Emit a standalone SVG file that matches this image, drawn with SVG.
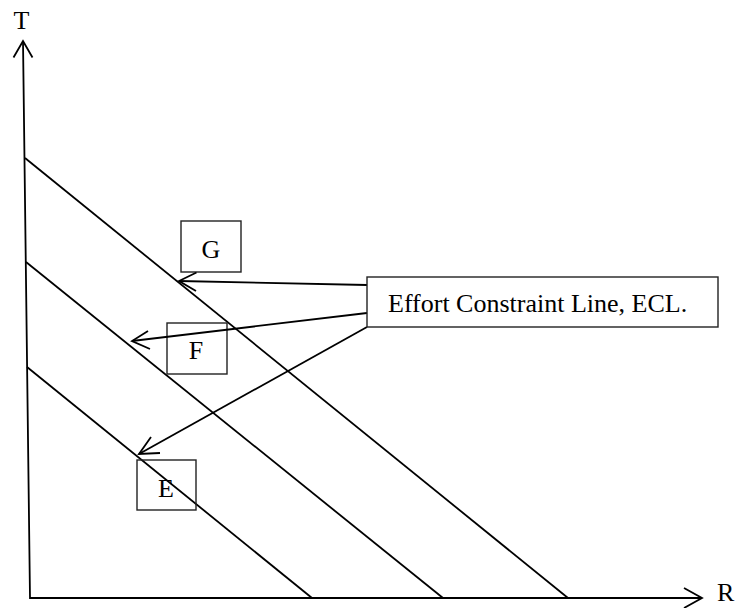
<svg xmlns="http://www.w3.org/2000/svg" width="740" height="608" viewBox="0 0 740 608">
<style>
.ln{stroke:#000;stroke-width:1.8;fill:none}
.bx{stroke:#222;stroke-width:1.4;fill:none}
.t{font-family:"Liberation Serif","Times New Roman",serif;font-size:26px;fill:#000}
</style>
<rect width="740" height="608" fill="#fff"/>
<g id="axes">
<path class="ln" d="M23,41 L30,598 L702,598"/>
<path class="ln" d="M13.5,57.5 L23,41 L32.5,57.5"/>
<path class="ln" d="M684,588 L702,598 L684,608"/>
<text class="t" x="21.5" y="29" text-anchor="middle" font-size="24">T</text>
<text class="t" x="717" y="601" font-size="24">R</text>
</g>
<g id="ecl-lines">
<line class="ln" x1="25" y1="158" x2="568" y2="598"/>
<line class="ln" x1="26" y1="262" x2="443" y2="598"/>
<line class="ln" x1="27" y1="367" x2="312" y2="598"/>
</g>
<g id="G">
<rect class="bx" x="181" y="221" width="60" height="51"/>
<text class="t" x="211" y="258" text-anchor="middle">G</text>
</g>
<g id="F">
<rect class="bx" x="167" y="323" width="60" height="51"/>
<text class="t" x="196" y="359" text-anchor="middle">F</text>
</g>
<g id="E">
<rect class="bx" x="137" y="460" width="59" height="50"/>
<text class="t" x="166" y="497" text-anchor="middle">E</text>
</g>
<g id="connectors">
<path class="ln" d="M367,285 L179,281"/>
<path class="ln" d="M196.5,272.5 L179,281 L196,291"/>
<path class="ln" d="M367,313 L132,341"/>
<path class="ln" d="M148,331 L132,341 L150,349"/>
<path class="ln" d="M367,327 L139,454"/>
<path class="ln" d="M151,437 L139,454 L160,453"/>
</g>
<g id="ECL">
<rect class="bx" x="367" y="277" width="351" height="50"/>
<text class="t" x="388" y="312">Effort Constraint Line, ECL.</text>
</g>
</svg>
